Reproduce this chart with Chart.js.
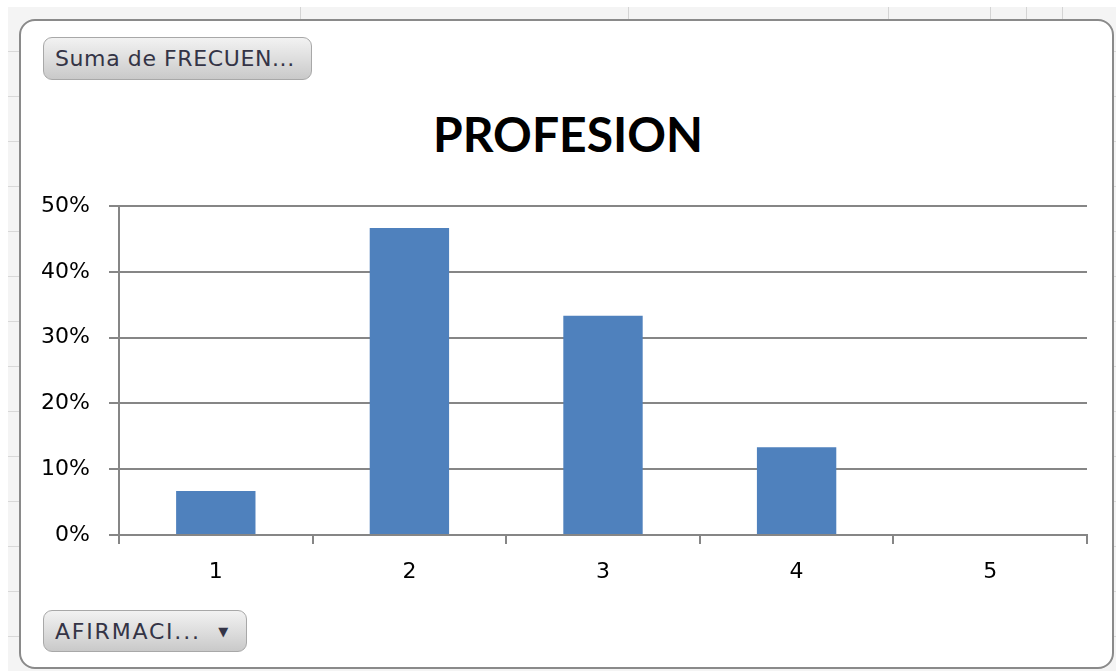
<!DOCTYPE html>
<html>
<head>
<meta charset="utf-8">
<script src="https://cdn.jsdelivr.net/npm/chart.js@4"></script>
<style>
  html, body { margin: 0; padding: 0; background: #fff; }
  body { width: 1116px; height: 671px; position: relative; overflow: hidden; font-family: "DejaVu Sans", sans-serif; }
  #sheet {
    position: absolute; left: 8px; top: 7px; right: 0; bottom: 0;
    background: #f4f4f4;
    background-image: repeating-linear-gradient(to bottom, transparent 0, transparent 44px, #d8d8d8 44px, #d8d8d8 45px);
  }
  .vline { position: absolute; top: 7px; height: 14px; width: 1px; background: #d4d4d4; }
  #frame {
    position: absolute; left: 19px; top: 19px; width: 1091px; height: 646px;
    border: 2px solid #8a8a8a; border-radius: 16px; background: #fff;
  }
  .btn {
    position: absolute; box-sizing: border-box; border: 1px solid #a8a8a8; border-radius: 9px;
    background: linear-gradient(to bottom, #f2f2f2 0%, #dcdcdc 55%, #c9c9c9 100%);
    color: #343446; font-size: 22px; line-height: 41px; padding-left: 11px; white-space: nowrap;
  }
  #title {
    position: absolute; left: 368px; width: 400px; top: 104px; text-align: center;
    font-family: Lato, sans-serif; font-weight: bold; font-size: 48px; line-height: 60px; color: #000;
  }
  canvas { position: absolute; left: 0; top: 0; }
</style>
</head>
<body>
<div id="sheet"></div>
<div class="vline" style="left:300px"></div>
<div class="vline" style="left:628px"></div>
<div class="vline" style="left:888px"></div>
<div class="vline" style="left:990px"></div>
<div class="vline" style="left:1026px"></div>
<div class="vline" style="left:1062px"></div>
<div id="frame"></div>
<div class="btn" style="left:43px; top:37px; width:269px; height:43px; letter-spacing:0.6px;">Suma de FRECUEN...</div>
<div class="btn" style="left:43px; top:610px; width:204px; height:42px; letter-spacing:1.8px;">AFIRMACI...&nbsp;&nbsp;<span style="font-size:13px; position:relative; top:-3px;">&#9660;</span></div>
<div id="title">PROFESION</div>
<canvas id="chart" width="1116" height="671"></canvas>
<script>
const categories = ['1', '2', '3', '4', '5'];
const frecuencia = [0.0667, 0.4667, 0.3333, 0.1333, 0];
const yTicks = [0, 0.1, 0.2, 0.3, 0.4, 0.5];

const axisGray = '#868686';
const textFont = { family: 'DejaVu Sans', size: 22 };

new Chart(document.getElementById('chart').getContext('2d'), {
    type: 'bar',
    data: {
        labels: categories,
        datasets: [{
            label: 'Suma de FRECUENCIA',
            data: frecuencia,
            backgroundColor: '#4F81BD',
            categoryPercentage: 0.82,
            barPercentage: 0.5
        }]
    },
    options: {
        responsive: false,
        animation: false,
        layout: { padding: { top: 206, right: 29, bottom: 80, left: 0 } },
        plugins: {
            legend: { display: false },
            tooltip: { enabled: false },
            title: { display: false }
        },
        scales: {
            x: {
                grid: { display: true, drawOnChartArea: false, drawTicks: true, tickLength: 9, color: axisGray, lineWidth: 2 },
                border: { display: true, color: axisGray, width: 2 },
                ticks: { color: '#000', font: textFont, padding: 15 },
                afterFit: s => { s.height = 56; }
            },
            y: {
                min: 0,
                max: 0.5,
                afterBuildTicks: s => { s.ticks = yTicks.map(v => ({ value: v })); },
                grid: { color: axisGray, lineWidth: 2, tickLength: 10 },
                border: { display: true, color: axisGray, width: 2 },
                ticks: {
                    color: '#000', font: textFont, padding: 19,
                    callback: v => Math.round(v * 100) + '%'
                },
                afterFit: s => { s.width = 119; }
            }
        }
    }
});
</script>
</body>
</html>
